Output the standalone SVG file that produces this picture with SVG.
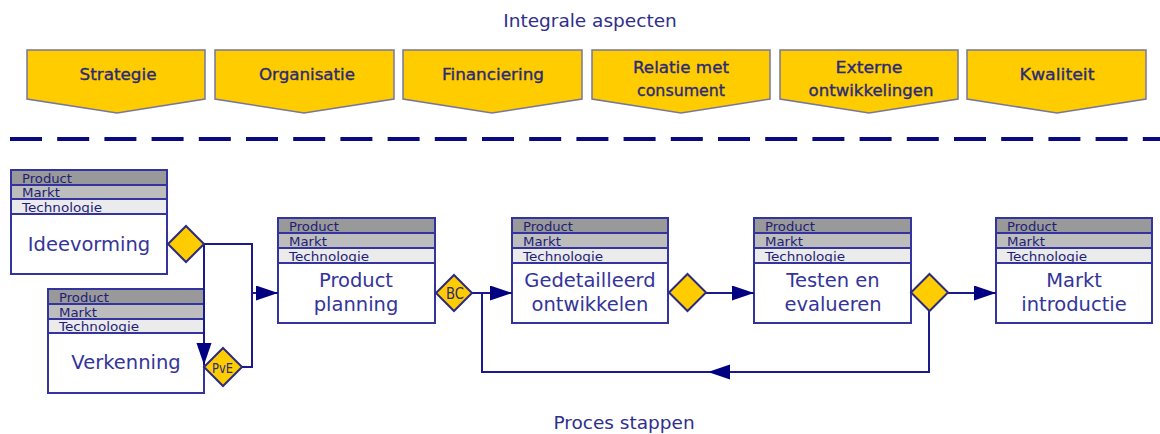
<svg xmlns="http://www.w3.org/2000/svg" width="1160" height="434" viewBox="0 0 1160 434">
  <style>
    .title { font-family: "DejaVu Sans", Verdana, sans-serif; font-size: 18.5px; fill: #2e2e8c; text-anchor: middle; }
    .chev { fill: #ffcc00; stroke: #77779c; stroke-width: 1.5; }
    .chevtxt { font-family: "DejaVu Sans", Verdana, sans-serif; font-size: 16px; fill: #2a2a78; stroke: #2a2a78; stroke-width: 0.35; text-anchor: middle; }
    .box { fill: #ffffff; stroke: #3434a0; stroke-width: 2; }
    .frame { fill: none; stroke: #3434a0; stroke-width: 2; }
    .r1 { fill: #999999; }
    .r2 { fill: #bdbdbd; }
    .r3 { fill: #ebebeb; }
    .sep { stroke: #3434a0; stroke-width: 2; }
    .rowtxt { font-family: "DejaVu Sans", Verdana, sans-serif; font-size: 12.5px; fill: #1e1e78; }
    .body { font-family: "DejaVu Sans", Verdana, sans-serif; font-size: 19.5px; fill: #34349a; text-anchor: middle; }
    .dia { fill: #ffcc00; stroke: #2a2a80; stroke-width: 2; }
    .diatxt { font-family: "DejaVu Sans", Verdana, sans-serif; fill: #2a2a80; text-anchor: middle; }
    .conn { fill: none; stroke: #1a1a8c; stroke-width: 2; }
    .divider { stroke: #0a0a80; stroke-width: 4; stroke-dasharray: 32 15.2; }
  </style>
  <defs>
    <marker id="ah" markerUnits="userSpaceOnUse" markerWidth="22" markerHeight="16" refX="22" refY="7.5" orient="auto">
      <path d="M0,0 L22,7.5 L0,15 z" fill="#000080"/>
    </marker>
  </defs>

  <!-- heading -->
  <text class="title" x="590" y="27">Integrale aspecten</text>

  <!-- integral aspects -->
  <g id="aspect-strategie">
    <path class="chev" d="M27,50 H205 V99 L117,113 L27,99 Z"/>
    <text class="chevtxt" x="118" y="80" textLength="77" lengthAdjust="spacingAndGlyphs">Strategie</text>
  </g>
  <g id="aspect-organisatie">
    <path class="chev" d="M215,50 H394 V99 L304,113 L215,99 Z"/>
    <text class="chevtxt" x="307" y="80" textLength="96" lengthAdjust="spacingAndGlyphs">Organisatie</text>
  </g>
  <g id="aspect-financiering">
    <path class="chev" d="M403,50 H582 V99 L492,113 L403,99 Z"/>
    <text class="chevtxt" x="493" y="80" textLength="102" lengthAdjust="spacingAndGlyphs">Financiering</text>
  </g>
  <g id="aspect-relatie">
    <path class="chev" d="M592,50 H770 V99 L681,113 L592,99 Z"/>
    <text class="chevtxt" x="681" y="73" textLength="96" lengthAdjust="spacingAndGlyphs">Relatie met</text>
    <text class="chevtxt" x="681" y="96" textLength="88" lengthAdjust="spacingAndGlyphs">consument</text>
  </g>
  <g id="aspect-extern">
    <path class="chev" d="M780,50 H958 V99 L869,113 L780,99 Z"/>
    <text class="chevtxt" x="869" y="73" textLength="67" lengthAdjust="spacingAndGlyphs">Externe</text>
    <text class="chevtxt" x="871" y="96" textLength="125" lengthAdjust="spacingAndGlyphs">ontwikkelingen</text>
  </g>
  <g id="aspect-kwaliteit">
    <path class="chev" d="M967,50 H1146 V99 L1057,113 L967,99 Z"/>
    <text class="chevtxt" x="1057" y="80" textLength="75" lengthAdjust="spacingAndGlyphs">Kwaliteit</text>
  </g>

  <!-- divider -->
  <line class="divider" x1="10" y1="139" x2="1160" y2="139"/>

  <!-- process steps -->
  <g id="step-ideevorming">
    <rect class="box" x="11" y="170" width="156" height="104"/>
    <rect class="r1" x="11" y="170" width="156" height="15"/>
    <rect class="r2" x="11" y="185" width="156" height="14"/>
    <rect class="r3" x="11" y="199" width="156" height="15"/>
    <text class="rowtxt" x="22" y="183" textLength="50" lengthAdjust="spacingAndGlyphs">Product</text>
    <text class="rowtxt" x="22" y="197" textLength="38" lengthAdjust="spacingAndGlyphs">Markt</text>
    <text class="rowtxt" x="22" y="212" textLength="80" lengthAdjust="spacingAndGlyphs">Technologie</text>
    <line class="sep" x1="11" y1="185" x2="167" y2="185"/>
    <line class="sep" x1="11" y1="199" x2="167" y2="199"/>
    <line class="sep" x1="11" y1="214" x2="167" y2="214"/>
    <rect class="frame" x="11" y="170" width="156" height="104"/>
    <text class="body" x="89" y="251">Ideevorming</text>
  </g>

  <g id="step-verkenning">
    <rect class="box" x="48" y="289" width="156" height="104"/>
    <rect class="r1" x="48" y="289" width="156" height="15"/>
    <rect class="r2" x="48" y="304" width="156" height="15"/>
    <rect class="r3" x="48" y="319" width="156" height="14"/>
    <text class="rowtxt" x="59" y="302" textLength="50" lengthAdjust="spacingAndGlyphs">Product</text>
    <text class="rowtxt" x="59" y="317" textLength="38" lengthAdjust="spacingAndGlyphs">Markt</text>
    <text class="rowtxt" x="59" y="331" textLength="80" lengthAdjust="spacingAndGlyphs">Technologie</text>
    <line class="sep" x1="48" y1="304" x2="204" y2="304"/>
    <line class="sep" x1="48" y1="319" x2="204" y2="319"/>
    <line class="sep" x1="48" y1="333" x2="204" y2="333"/>
    <rect class="frame" x="48" y="289" width="156" height="104"/>
    <text class="body" x="126" y="369">Verkenning</text>
  </g>

  <g id="step-productplanning">
    <rect class="box" x="278" y="218" width="157" height="105"/>
    <rect class="r1" x="278" y="218" width="157" height="15"/>
    <rect class="r2" x="278" y="233" width="157" height="15"/>
    <rect class="r3" x="278" y="248" width="157" height="15"/>
    <text class="rowtxt" x="289" y="231" textLength="50" lengthAdjust="spacingAndGlyphs">Product</text>
    <text class="rowtxt" x="289" y="246" textLength="38" lengthAdjust="spacingAndGlyphs">Markt</text>
    <text class="rowtxt" x="289" y="261" textLength="80" lengthAdjust="spacingAndGlyphs">Technologie</text>
    <line class="sep" x1="278" y1="233" x2="435" y2="233"/>
    <line class="sep" x1="278" y1="248" x2="435" y2="248"/>
    <line class="sep" x1="278" y1="263" x2="435" y2="263"/>
    <rect class="frame" x="278" y="218" width="157" height="105"/>
    <text class="body" x="356" y="287">Product</text>
    <text class="body" x="356" y="311">planning</text>
  </g>

  <g id="step-ontwikkelen">
    <rect class="box" x="512" y="218" width="156" height="105"/>
    <rect class="r1" x="512" y="218" width="156" height="15"/>
    <rect class="r2" x="512" y="233" width="156" height="15"/>
    <rect class="r3" x="512" y="248" width="156" height="15"/>
    <text class="rowtxt" x="523" y="231" textLength="50" lengthAdjust="spacingAndGlyphs">Product</text>
    <text class="rowtxt" x="523" y="246" textLength="38" lengthAdjust="spacingAndGlyphs">Markt</text>
    <text class="rowtxt" x="523" y="261" textLength="80" lengthAdjust="spacingAndGlyphs">Technologie</text>
    <line class="sep" x1="512" y1="233" x2="668" y2="233"/>
    <line class="sep" x1="512" y1="248" x2="668" y2="248"/>
    <line class="sep" x1="512" y1="263" x2="668" y2="263"/>
    <rect class="frame" x="512" y="218" width="156" height="105"/>
    <text class="body" x="590" y="287">Gedetailleerd</text>
    <text class="body" x="590" y="311">ontwikkelen</text>
  </g>

  <g id="step-testen">
    <rect class="box" x="754" y="218" width="157" height="105"/>
    <rect class="r1" x="754" y="218" width="157" height="15"/>
    <rect class="r2" x="754" y="233" width="157" height="15"/>
    <rect class="r3" x="754" y="248" width="157" height="15"/>
    <text class="rowtxt" x="765" y="231" textLength="50" lengthAdjust="spacingAndGlyphs">Product</text>
    <text class="rowtxt" x="765" y="246" textLength="38" lengthAdjust="spacingAndGlyphs">Markt</text>
    <text class="rowtxt" x="765" y="261" textLength="80" lengthAdjust="spacingAndGlyphs">Technologie</text>
    <line class="sep" x1="754" y1="233" x2="911" y2="233"/>
    <line class="sep" x1="754" y1="248" x2="911" y2="248"/>
    <line class="sep" x1="754" y1="263" x2="911" y2="263"/>
    <rect class="frame" x="754" y="218" width="157" height="105"/>
    <text class="body" x="833" y="287">Testen en</text>
    <text class="body" x="833" y="311">evalueren</text>
  </g>

  <g id="step-marktintroductie">
    <rect class="box" x="996" y="218" width="156" height="105"/>
    <rect class="r1" x="996" y="218" width="156" height="15"/>
    <rect class="r2" x="996" y="233" width="156" height="15"/>
    <rect class="r3" x="996" y="248" width="156" height="15"/>
    <text class="rowtxt" x="1007" y="231" textLength="50" lengthAdjust="spacingAndGlyphs">Product</text>
    <text class="rowtxt" x="1007" y="246" textLength="38" lengthAdjust="spacingAndGlyphs">Markt</text>
    <text class="rowtxt" x="1007" y="261" textLength="80" lengthAdjust="spacingAndGlyphs">Technologie</text>
    <line class="sep" x1="996" y1="233" x2="1152" y2="233"/>
    <line class="sep" x1="996" y1="248" x2="1152" y2="248"/>
    <line class="sep" x1="996" y1="263" x2="1152" y2="263"/>
    <rect class="frame" x="996" y="218" width="156" height="105"/>
    <text class="body" x="1074" y="287">Markt</text>
    <text class="body" x="1074" y="311">introductie</text>
  </g>

  <!-- connectors -->
  <g id="connectors">
    <path class="conn" d="M204,244 H252 V367 H242"/>
    <path class="conn" d="M252,293 H278" marker-end="url(#ah)"/>
    <path class="conn" d="M204,244 V365" marker-end="url(#ah)"/>
    <path class="conn" d="M472,293 H512" marker-end="url(#ah)"/>
    <path class="conn" d="M929,311 V372 H708" marker-end="url(#ah)"/>
    <path class="conn" d="M710,372 H482 V293"/>
    <path class="conn" d="M706,293 H754" marker-end="url(#ah)"/>
    <path class="conn" d="M948,293 H996" marker-end="url(#ah)"/>
  </g>

  <!-- decision points -->
  <g id="gate-idee">
    <path class="dia" d="M186,226 L204,244 L186,262 L168,244 Z"/>
  </g>
  <g id="gate-pve">
    <path class="dia" d="M223,348 L242,367 L223,386 L204,367 Z"/>
    <text class="diatxt" x="222.5" y="373" style="font-size:14px" textLength="21" lengthAdjust="spacingAndGlyphs">PvE</text>
  </g>
  <g id="gate-bc">
    <path class="dia" d="M454,275 L472,293 L454,311 L436,293 Z"/>
    <text class="diatxt" x="455" y="299" style="font-size:15px" textLength="18" lengthAdjust="spacingAndGlyphs">BC</text>
  </g>
  <g id="gate-ontwikkeling">
    <path class="dia" d="M687.5,274 L706,292.5 L687.5,311 L669,292.5 Z"/>
  </g>
  <g id="gate-test">
    <path class="dia" d="M929.5,274 L948,292.5 L929.5,311 L911,292.5 Z"/>
  </g>

  <!-- footer -->
  <text class="title" x="624" y="429">Proces stappen</text>
</svg>
